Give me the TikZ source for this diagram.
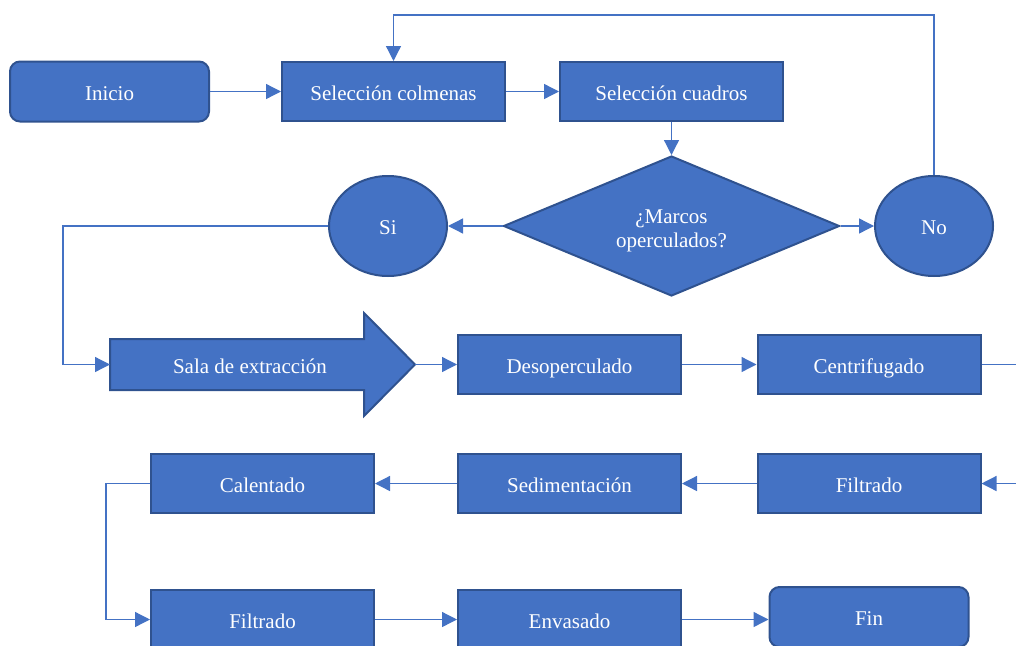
\documentclass[tikz,border=0pt]{standalone}
\usepackage{fontspec}
\setmainfont{Liberation Serif}
\usetikzlibrary{shapes.geometric,arrows.meta}
\definecolor{fillblue}{HTML}{4472C4}
\definecolor{edgeblue}{HTML}{2F528F}
\begin{document}
\begin{tikzpicture}[x=1pt,y=-1pt,
  every node/.style={text=white,font=\fontsize{21}{24}\selectfont},
  txt/.style={text height=17pt,text depth=0pt},
  procbox/.style={txt,draw=edgeblue,fill=fillblue,line width=2pt,minimum width=223pt,minimum height=59pt,inner sep=0pt},
  termbox/.style={procbox,rounded corners=10pt,minimum width=199pt,minimum height=60pt},
  decbox/.style={diamond,aspect=2.4,draw=edgeblue,fill=fillblue,line width=2pt,minimum width=336pt,minimum height=140pt,inner sep=0pt,align=center},
  circbox/.style={txt,ellipse,draw=edgeblue,fill=fillblue,line width=2pt,minimum width=118pt,minimum height=100pt,inner sep=0pt},
  conn/.style={draw=fillblue,line width=1.3pt,-{Triangle[length=15pt,width=15pt]}}]
\useasboundingbox (0,0) rectangle (1016,645);

\node[termbox] (inicio) at (109.5,91.5) {Inicio};
\node[procbox] (colm) at (393.5,91.5) {Selección colmenas};
\node[procbox] (cuad) at (671.5,91.5) {Selección cuadros};
\node[decbox] (dec) at (671.5,226) {\rule{0pt}{23pt}¿Marcos\\operculados?};
\node[circbox] (si) at (388,226) {Si};
\node[circbox] (no) at (934,226) {No};

\path[draw=edgeblue,fill=fillblue,line width=2pt] (110,339) -- (364,339) -- (364,313) -- (415,364.5) -- (364,416) -- (364,390) -- (110,390) -- cycle;
\node[txt] (sala) at (250,364.5) {Sala de extracción};
\coordinate (salaW) at (110,364.5);
\coordinate (salaE) at (415,364.5);

\node[procbox] (desop) at (569.5,364.5) {Desoperculado};
\node[procbox] (centri) at (869,364.5) {Centrifugado};
\node[procbox] (filtA) at (869,483.5) {Filtrado};
\node[procbox] (sedim) at (569.5,483.5) {Sedimentación};
\node[procbox] (calen) at (262.5,483.5) {Calentado};
\node[procbox] (filtB) at (262.5,619.5) {Filtrado};
\node[procbox] (envas) at (569.5,619.5) {Envasado};
\node[termbox] (fin) at (869,617) {Fin};

\coordinate (topy) at (0,15);
\coordinate (leftA) at (63,0);
\coordinate (leftB) at (106,0);
\coordinate (rightA) at (1040,0);

\draw[conn] (inicio.east) -- (colm.west);
\draw[conn] (colm.east) -- (cuad.west);
\draw[conn] (cuad.south) -- (dec.north);
\draw[conn] (dec.west) -- (si.east);
\draw[conn] (dec.east) -- (no.west);
\draw[conn] (no.north) -- (no.north |- topy) -| (colm.north);
\draw[conn] (si.west) -- (si.west -| leftA) |- (salaW);
\draw[conn] (salaE) -- (desop.west);
\draw[conn] (desop.east) -- (centri.west);
\draw[conn] (centri.east) -- (centri.east -| rightA) |- (filtA.east);
\draw[conn] (filtA.west) -- (sedim.east);
\draw[conn] (sedim.west) -- (calen.east);
\draw[conn] (calen.west) -- (calen.west -| leftB) |- (filtB.west);
\draw[conn] (filtB.east) -- (envas.west);
\draw[conn] (envas.east) -- (envas.east -| fin.west);
\end{tikzpicture}
\end{document}
